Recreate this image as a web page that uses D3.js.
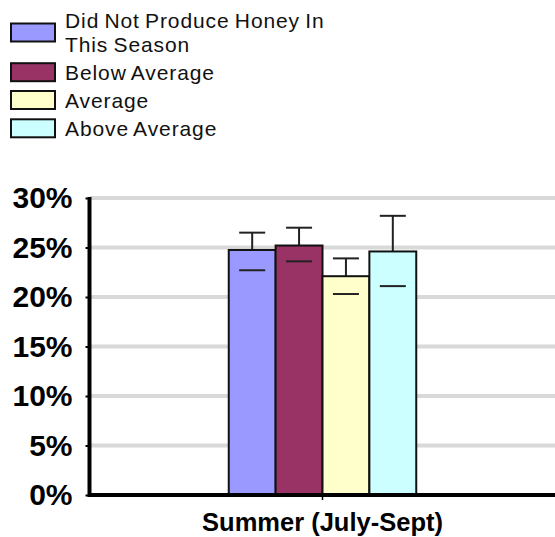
<!DOCTYPE html>
<html><head><meta charset="utf-8">
<script src="https://cdn.jsdelivr.net/npm/d3@7"></script>
<style>body{margin:0;background:#fff}svg{display:block;font-family:"Liberation Sans",Arial,sans-serif}</style>
</head><body><svg id="c" width="555" height="537"></svg>
<script>
const categories = ["Summer (July-Sept)"];
const seriesNames = ["Did Not Produce Honey In This Season", "Below Average", "Average", "Above Average"];
const legendLines = [["Did Not Produce Honey In", "This Season"], ["Below Average"], ["Average"], ["Above Average"]];
const seriesColors = ["#9999ff", "#993366", "#ffffcc", "#ccffff"];
const values = [24.75, 25.2, 22.1, 24.6];
const upperErr = [26.5, 27.0, 23.9, 28.2];
const lowerErr = [22.7, 23.6, 20.3, 21.1];
const yTicks = [0, 5, 10, 15, 20, 25, 30];

const svg = d3.select("#c");
const y = d3.scaleLinear().domain([0, 30]).range([495, 198]);
const x0 = d3.scaleBand().domain(categories).range([90, 555]).paddingInner(0).paddingOuter(0.74);
const x1 = d3.scaleBand().domain(d3.range(seriesNames.length)).range([0, x0.bandwidth()]);

// gridlines
svg.append("g").selectAll("line").data(yTicks.filter(d => d > 0)).join("line")
  .attr("x1", 90).attr("x2", 555).attr("y1", d => y(d)).attr("y2", d => y(d))
  .attr("stroke", "#d9d9d9").attr("stroke-width", 4);

// error bar upper stems (behind bars)
const g = svg.append("g").attr("transform", `translate(${x0(categories[0])},0)`);
const cx = i => x1(i) + x1.bandwidth() / 2;
g.selectAll("line.stem").data(values).join("line").attr("class", "stem")
  .attr("x1", (d, i) => cx(i)).attr("x2", (d, i) => cx(i))
  .attr("y1", (d, i) => y(upperErr[i])).attr("y2", d => y(d))
  .attr("stroke", "#222").attr("stroke-width", 2);
g.selectAll("line.cap").data(upperErr).join("line").attr("class", "cap")
  .attr("x1", (d, i) => cx(i) - 13).attr("x2", (d, i) => cx(i) + 13)
  .attr("y1", d => y(d)).attr("y2", d => y(d))
  .attr("stroke", "#222").attr("stroke-width", 2);

// bars
g.selectAll("rect").data(values).join("rect")
  .attr("x", (d, i) => x1(i)).attr("width", x1.bandwidth())
  .attr("y", d => y(d)).attr("height", d => y(0) - y(d))
  .attr("fill", (d, i) => seriesColors[i]).attr("stroke", "#111").attr("stroke-width", 2);

// lower caps
g.selectAll("line.lcap").data(lowerErr).join("line").attr("class", "lcap")
  .attr("x1", (d, i) => cx(i) - 13).attr("x2", (d, i) => cx(i) + 13)
  .attr("y1", d => y(d)).attr("y2", d => y(d))
  .attr("stroke", "#222").attr("stroke-width", 2);

// y axis
const yAxis = d3.axisLeft(y).tickValues(yTicks).tickFormat(d => d + "%").tickSize(4).tickPadding(13);
const ya = svg.append("g").attr("transform", "translate(89.5,0)").call(yAxis);
ya.select(".domain").attr("stroke", "#000").attr("stroke-width", 4).attr("d", "M0,197V497");
ya.selectAll(".tick line").attr("stroke", "#000").attr("stroke-width", 2);
ya.selectAll(".tick text").attr("font-size", 30).attr("font-weight", "bold").attr("fill", "#000")
  .attr("font-family", '"Liberation Sans",Arial,sans-serif');

// x axis
const xAxis = d3.axisBottom(x0).tickSize(5).tickPadding(14);
const xa = svg.append("g").attr("transform", "translate(0,495)").call(xAxis);
xa.select(".domain").attr("stroke", "#000").attr("stroke-width", 4).attr("d", "M88,0H555");
xa.selectAll(".tick line").attr("stroke", "#000").attr("stroke-width", 1.5);
xa.selectAll(".tick text").attr("font-size", 25.5).attr("font-weight", "bold").attr("fill", "#000")
  .attr("font-family", '"Liberation Sans",Arial,sans-serif').attr("dy", "0.68em");

// legend
const rowsY = [32.5, 72.2, 100, 128.3];
const lg = svg.append("g");
legendLines.forEach((lines, i) => {
  lg.append("rect").attr("x", 11).attr("y", rowsY[i] - 9).attr("width", 44).attr("height", 18)
    .attr("fill", seriesColors[i]).attr("stroke", "#111").attr("stroke-width", 2);
  const t = lg.append("text").attr("x", 65).attr("font-size", 21).attr("fill", "#111")
    .attr("letter-spacing", 0.9).attr("word-spacing", -1.5);
  if (lines.length === 2) {
    t.append("tspan").attr("x", 65).attr("y", 28.3).text(lines[0]);
    t.append("tspan").attr("x", 65).attr("y", 51.5).text(lines[1]);
  } else {
    t.attr("y", rowsY[i] + 7.5).text(lines[0]);
  }
});
</script></body></html>
